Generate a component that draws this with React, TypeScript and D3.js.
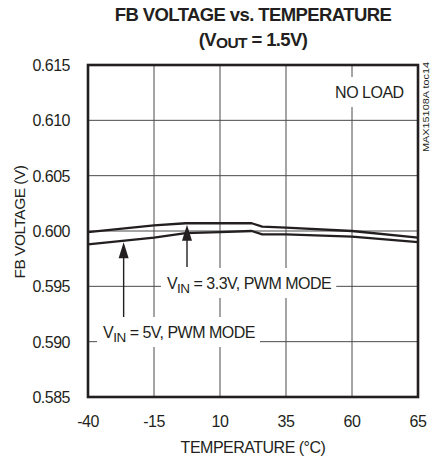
import * as React from 'react'
import * as d3 from 'd3'

// temperatures (°C)
const temps = [-40, -15, -3, 10, 22, 26, 35, 60, 85]
const vin33 = [0.5999, 0.6005, 0.6007, 0.6007, 0.6007, 0.6004, 0.6003, 0.6000, 0.5994]
const vin5 = [0.5988, 0.5994, 0.5998, 0.5999, 0.6000, 0.5997, 0.5997, 0.5995, 0.5990]

const xTicks = [-40, -15, 10, 35, 60, 85]
const xTickLabels = ['-40', '-15', '10', '35', '60', '65']
const yTicks = [0.585, 0.59, 0.595, 0.6, 0.605, 0.61, 0.615]

const FONT = '"Liberation Sans", Arial, Helvetica, sans-serif'
const INK = '#231f20'

function interp(t: number, values: number[]) {
	return d3.scaleLinear<number>().domain(temps).range(values).clamp(true)(t)
}

function drawChart(svg: d3.Selection<SVGSVGElement, unknown, null, undefined>) {
	svg.selectAll('*').remove()
	const dim = { left: 88, right: 418, top: 65, bottom: 397 }

	const x = d3.scaleLinear().domain([-40, 85]).range([dim.left, dim.right])
	const y = d3.scaleLinear().domain([0.585, 0.615]).range([dim.bottom, dim.top])

	// title
	svg.append('text')
		.attr('x', 253).attr('y', 21)
		.attr('text-anchor', 'middle')
		.style('font', `bold 18.5px ${FONT}`)
		.style('letter-spacing', '-0.6px')
		.attr('fill', INK)
		.text('FB VOLTAGE vs. TEMPERATURE')
	const t2 = svg.append('text')
		.attr('x', 253).attr('y', 46)
		.attr('text-anchor', 'middle')
		.style('font', `bold 18.5px ${FONT}`)
		.style('letter-spacing', '-0.6px')
		.attr('fill', INK)
	t2.append('tspan').text('(V')
	t2.append('tspan').attr('dy', 2).style('font-size', '15.5px').text('OUT')
	t2.append('tspan').attr('dy', -2).text(' = 1.5V)')

	// grid
	const grid = svg.append('g').attr('stroke', '#4a4a4a').attr('stroke-width', 1)
	grid.selectAll('line.v')
		.data(xTicks.slice(1, -1))
		.enter().append('line')
		.attr('x1', d => x(d)).attr('x2', d => x(d))
		.attr('y1', dim.top).attr('y2', dim.bottom)
	grid.selectAll('line.h')
		.data(yTicks.slice(1, -1))
		.enter().append('line')
		.attr('x1', dim.left).attr('x2', dim.right)
		.attr('y1', d => y(d)).attr('y2', d => y(d))

	// curves
	const line = d3.line<number>()
		.x((_, i) => x(temps[i]))
		.y(d => y(d))
	svg.selectAll('path.curve')
		.data([vin33, vin5])
		.enter().append('path')
		.attr('d', d => line(d)!)
		.attr('fill', 'none')
		.attr('stroke', INK)
		.attr('stroke-width', 2.3)
		.attr('stroke-linejoin', 'round')

	// labels with white backing that breaks the grid
	const labels = [
		{ t: -34.3, v: 0.59033, main: 'V', sub: 'IN', rest: ' = 5V, PWM MODE' },
		{ t: -10.1, v: 0.59476, main: 'V', sub: 'IN', rest: ' = 3.3V, PWM MODE' },
		{ t: 53.6, v: 0.61202, main: 'NO LOAD', sub: '', rest: '' },
	]
	labels.forEach(l => {
		const g = svg.append('g')
		const bg = g.append('rect').attr('fill', 'white')
		const txt = g.append('text')
			.attr('x', x(l.t)).attr('y', y(l.v))
			.style('font', `16px ${FONT}`)
			.style('letter-spacing', '-0.5px')
			.attr('fill', INK)
		txt.append('tspan').text(l.main)
		if (l.sub) {
			txt.append('tspan').attr('dy', 4).style('font-size', '13.5px').text(l.sub)
			txt.append('tspan').attr('dy', -4).text(l.rest)
		}
		const w = (txt.node() as SVGTextElement).getComputedTextLength()
		bg.attr('x', x(l.t) - 6).attr('width', w + 11)
			.attr('y', y(l.v) - 21).attr('height', 30)
	})

	// arrows
	const arrows = [
		{ t: -26.5, from: 0.59223, values: vin5 },
		{ t: -2.5, from: 0.59675, values: vin33 },
	]
	arrows.forEach(a => {
		const ax = x(a.t)
		const tip = y(interp(a.t, a.values)) + 1.5
		svg.append('line')
			.attr('x1', ax).attr('x2', ax)
			.attr('y1', tip + 12).attr('y2', y(a.from))
			.attr('stroke', INK).attr('stroke-width', 1.4)
		svg.append('path')
			.attr('d', `M${ax},${tip}L${ax - 5},${tip + 16}L${ax + 5},${tip + 16}Z`)
			.attr('fill', INK)
	})

	// frame
	svg.append('rect')
		.attr('x', dim.left).attr('y', dim.top)
		.attr('width', dim.right - dim.left).attr('height', dim.bottom - dim.top)
		.attr('fill', 'none').attr('stroke', INK).attr('stroke-width', 2.6)

	// tick labels
	svg.selectAll('text.yt')
		.data(yTicks)
		.enter().append('text')
		.attr('x', 70).attr('y', d => y(d) + 6)
		.attr('text-anchor', 'end')
		.style('font', `16px ${FONT}`)
		.style('letter-spacing', '-0.5px')
		.attr('fill', INK)
		.text(d => d3.format('.3f')(d))
	svg.selectAll('text.xt')
		.data(xTicks)
		.enter().append('text')
		.attr('x', d => x(d)).attr('y', 427)
		.attr('text-anchor', 'middle')
		.style('font', `16px ${FONT}`)
		.style('letter-spacing', '-0.5px')
		.attr('fill', INK)
		.text((_, i) => xTickLabels[i])

	// axis titles
	svg.append('text')
		.attr('x', 253).attr('y', 453)
		.attr('text-anchor', 'middle')
		.style('font', `16px ${FONT}`)
		.style('letter-spacing', '-0.5px')
		.attr('fill', INK)
		.text('TEMPERATURE (°C)')
	svg.append('text')
		.attr('transform', 'translate(25,222) rotate(-90)')
		.attr('text-anchor', 'middle')
		.style('font', `15.5px ${FONT}`)
		.style('letter-spacing', '-0.5px')
		.attr('fill', INK)
		.text('FB VOLTAGE (V)')

	svg.append('text')
		.attr('transform', 'translate(429,62) rotate(-90)')
		.attr('text-anchor', 'end')
		.style('font', `9px ${FONT}`)
		.attr('textLength', 90)
		.attr('lengthAdjust', 'spacingAndGlyphs')
		.attr('fill', INK)
		.text('MAX15108A toc14')
}

const App: React.FC = () => {
	const svgRef = React.useRef<SVGSVGElement>(null)

	React.useEffect(() => {
		if (svgRef.current) drawChart(d3.select(svgRef.current))
	}, [])

	return (
		<svg ref={svgRef} width={430} height={460}
			style={{ position: 'absolute', left: 0, top: 0, background: 'white' }} />
	)
}

export default App
